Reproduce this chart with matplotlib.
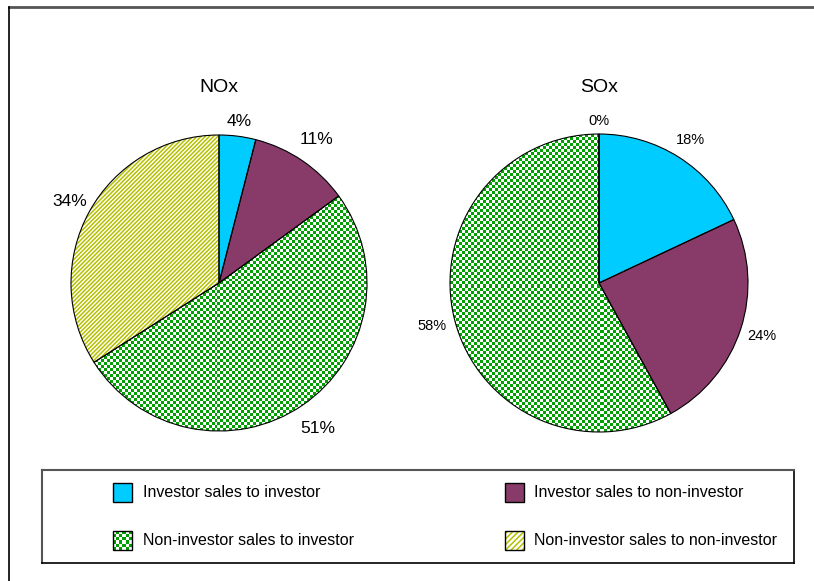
import numpy as np
import matplotlib
matplotlib.use("Agg")
import matplotlib.pyplot as plt
from matplotlib.patches import Rectangle
from matplotlib.lines import Line2D

plt.rcParams['font.family'] = ['Liberation Sans', 'DejaVu Sans']
plt.rcParams['hatch.linewidth'] = 1.1

# data
categories = ["Investor sales to investor", "Investor sales to non-investor",
              "Non-investor sales to investor", "Non-investor sales to non-investor"]
titles = ["NOx", "SOx"]
nox_values = [4, 11, 51, 34]
sox_values = [18, 24, 58, 0]

cyan = "#00CCFF"
plum = "#883A68"
green = "#00A000"
yellow = "#B4C000"

W, H = 814, 581
fig = plt.figure(figsize=(W / 100, H / 100), dpi=100)


def checker(n):
    a = np.indices((n, n)).sum(axis=0) % 2
    img = np.ones((n, n, 3))
    img[a == 1] = matplotlib.colors.to_rgb(green)
    return img


def make_pie(cx, cy, r, values, title, fsize, ldists):
    span = 1.4
    ax = fig.add_axes([(cx - span * r) / W, (H - cy - span * r) / H,
                       2 * span * r / W, 2 * span * r / H])
    fills = [cyan, plum, 'white', 'white']
    wedges, _ = ax.pie(values, colors=fills, startangle=90, counterclock=False,
                       wedgeprops=dict(linewidth=0))
    # checker pattern for non-investor -> investor
    ncell = int(round(2 * r / 3))
    im = ax.imshow(checker(ncell), extent=[-1, 1, -1, 1], interpolation='nearest', zorder=1.5)
    im.set_clip_path(wedges[2])
    # hatch for non-investor -> non-investor
    wedges[3].set_hatch('////////')
    wedges[3].set_edgecolor(yellow)
    # outlines + labels
    labels = ["%d%%" % v for v in values]
    outl, texts = ax.pie(values, labels=labels, startangle=90, counterclock=False,
                         wedgeprops=dict(facecolor='none', edgecolor='black', linewidth=0.8),
                         textprops=dict(fontsize=fsize, ha='center', va='center'))
    for w in outl:
        w.set_zorder(3)
    for w, t, d in zip(outl, texts, ldists):
        mid = np.deg2rad((w.theta1 + w.theta2) / 2)
        t.set_position((d * np.cos(mid), d * np.sin(mid)))
        t.set_ha('center')
        t.set_va('center')
    ax.text(0, (cy - 88) / r, title, ha='center', va='center', fontsize=14)
    ax.set_xlim(-span, span)
    ax.set_ylim(-span, span)
    ax.set_aspect('equal')
    ax.axis('off')
    return ax


make_pie(219, 283, 148, nox_values, titles[0], 12.5, [1.10, 1.17, 1.19, 1.15])
make_pie(599, 283, 149, sox_values, titles[1], 10.5, [1.14, 1.15, 1.16, 1.09])

# outer frame (cropped)
fig.add_artist(Line2D([9 / W, 1], [1 - 7 / H, 1 - 7 / H], color='#555555', lw=2))
fig.add_artist(Line2D([9 / W, 9 / W], [0, 1 - 7 / H], color='black', lw=1.2))

# legend box
lx0, ly0, lx1, ly1 = 42, 470, 794, 563
lax = fig.add_axes([lx0 / W, 1 - ly1 / H, (lx1 - lx0) / W, (ly1 - ly0) / H])
lax.set_xticks([])
lax.set_yticks([])
for s in ['top', 'left']:
    lax.spines[s].set_color('#555555')
    lax.spines[s].set_linewidth(1.5)
for s in ['bottom', 'right']:
    lax.spines[s].set_color('black')
    lax.spines[s].set_linewidth(1.2)

positions = [(113, 483), (505, 483), (113, 531), (505, 531)]
text_x = [143, 534, 143, 534]
sz = 19
for i, (name, (px, py)) in enumerate(zip(categories, positions)):
    if i == 0 or i == 1:
        lax.add_patch(Rectangle((px, py), sz, sz, facecolor=[cyan, plum][i],
                                edgecolor='black', lw=1))
    elif i == 2:
        lax.imshow(checker(6), extent=[px, px + sz, py + sz, py],
                   interpolation='nearest', aspect='auto')
        lax.add_patch(Rectangle((px, py), sz, sz, facecolor='none', edgecolor='black', lw=1))
    else:
        lax.add_patch(Rectangle((px, py), sz, sz, facecolor='white', edgecolor=yellow,
                                hatch='//////', lw=0))
        lax.add_patch(Rectangle((px, py), sz, sz, facecolor='none', edgecolor='black', lw=1))
    lax.text(text_x[i], py + sz / 2, name, ha='left', va='center', fontsize=11.5)
lax.set_xlim(lx0, lx1)
lax.set_ylim(ly1, ly0)

fig.savefig("out.png", dpi=100)
